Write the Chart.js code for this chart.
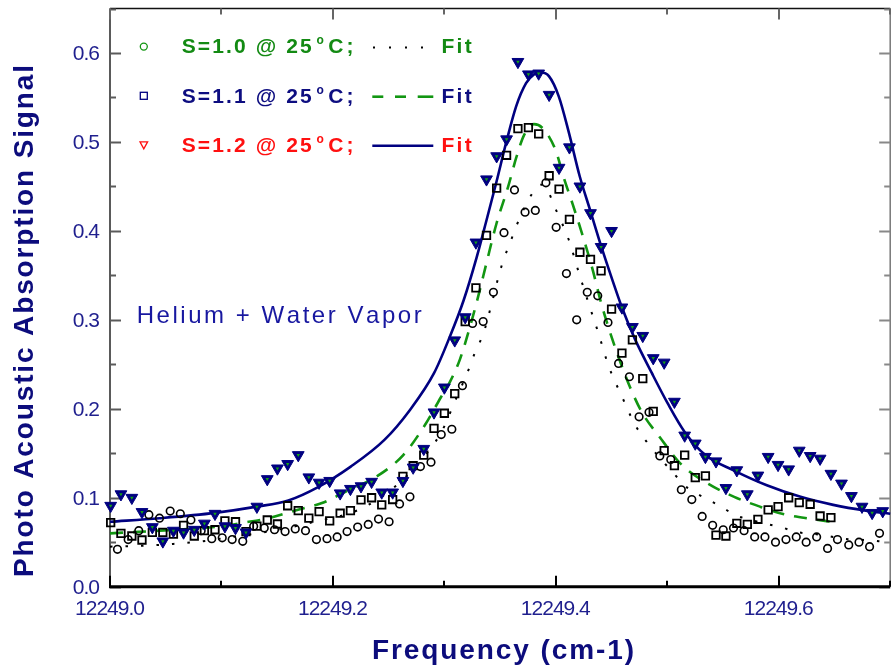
<!DOCTYPE html>
<html>
<head>
<meta charset="utf-8">
<script src="https://cdn.jsdelivr.net/npm/chart.js@4.4.0/dist/chart.umd.min.js"></script>
<style>
html,body{margin:0;padding:0;background:#fff;overflow:hidden;}
#wrap{width:898px;height:669px;}
</style>
</head>
<body>
<div id="wrap"><canvas id="c" width="898" height="669"></canvas></div>
<script>
// ---------- DATA ----------
// Frequency grid shared by the S=1.1 and S=1.2 measurements (cm-1)
const freqGrid = [
12249.0006,12249.0098,12249.0196,12249.0287,12249.0380,12249.0474,12249.0569,12249.0660,12249.0756,12249.0847,
12249.0942,12249.1031,12249.1126,12249.1220,12249.1318,12249.1411,12249.1502,12249.1594,12249.1689,12249.1784,
12249.1876,12249.1971,12249.2065,12249.2157,12249.2252,12249.2347,12249.2438,12249.2536,12249.2628,12249.2720,
12249.2815,12249.2907,12249.3000,12249.3093,12249.3187,12249.3283,12249.3378,12249.3469,12249.3558,12249.3660,
12249.3754,12249.3846,12249.3940,12249.4029,12249.4122,12249.4216,12249.4311,12249.4406,12249.4500,12249.4593,
12249.4687,12249.4780,12249.4874,12249.4972,12249.5064,12249.5156,12249.5251,12249.5342,12249.5437,12249.5526,
12249.5624,12249.5718,12249.5813,12249.5905,12249.5994,12249.6089,12249.6184,12249.6282,12249.6371,12249.6468,
12249.6563,12249.6652,12249.6747,12249.6838,12249.6933];

// S=1.2 @ 25°C (triangles)
const sig12 = [
0.091,0.104,0.100,0.084,0.067,0.051,0.063,0.061,0.064,0.071,
0.082,0.068,0.066,0.061,0.090,0.121,0.133,0.138,0.148,0.123,
0.117,0.119,0.105,0.110,0.113,0.118,0.106,0.106,0.119,0.134,
0.155,0.196,0.224,0.277,0.303,0.387,0.458,0.484,0.503,0.590,
0.576,0.577,0.553,0.471,0.494,0.450,0.420,0.382,0.400,0.314,
0.292,0.282,0.257,0.252,0.208,0.170,0.161,0.146,0.141,0.111,
0.131,0.104,0.125,0.146,0.137,0.132,0.153,0.147,0.144,0.127,
0.116,0.102,0.090,0.083,0.085];

// S=1.1 @ 25°C (squares) - on the first 70 points of freqGrid
const sig11 = [
0.072,0.060,0.057,0.0525,0.061,0.061,0.059,0.069,0.057,0.063,
0.064,0.074,0.073,0.062,0.068,0.075,0.0705,0.091,0.0855,0.077,
0.0845,0.074,0.0826,0.0855,0.0975,0.100,0.092,0.098,0.124,0.136,
0.148,0.178,0.195,0.217,0.298,0.336,0.395,0.448,0.485,0.515,
0.516,0.509,0.462,0.447,0.413,0.376,0.368,0.355,0.312,0.2625,
0.2775,0.234,0.197,0.153,0.136,0.148,0.1226,0.1245,0.058,0.057,
0.0713,0.070,0.0758,0.0863,0.090,0.100,0.0945,0.0927,0.0795,0.0776];

// S=1.0 @ 25°C (circles)
const freqCirc = [
12249.0067,12249.0163,12249.0258,12249.0349,12249.0444,12249.0540,12249.0631,12249.0726,12249.0818,12249.0913,
12249.1007,12249.1096,12249.1191,12249.1289,12249.1384,12249.1476,12249.1571,12249.1662,12249.1754,12249.1852,
12249.1947,12249.2038,12249.2127,12249.2222,12249.2317,12249.2409,12249.2504,12249.2598,12249.2691,12249.2785,
12249.2880,12249.2972,12249.3067,12249.3162,12249.3253,12249.3348,12249.3440,12249.3535,12249.3629,12249.3724,
12249.3816,12249.3911,12249.4003,12249.4095,12249.4187,12249.4282,12249.4376,12249.4468,12249.4563,12249.4660,
12249.4747,12249.4836,12249.4933,12249.5031,12249.5126,12249.5220,12249.5313,12249.5407,12249.5502,12249.5594,
12249.5689,12249.5784,12249.5876,12249.5971,12249.6065,12249.6157,12249.6246,12249.6340,12249.6438,12249.6527,
12249.6628,12249.6720,12249.6815,12249.6904];
const sig10 = [
0.042,0.053,0.063,0.081,0.077,0.085,0.082,0.075,0.063,0.054,
0.055,0.053,0.051,0.068,0.066,0.064,0.062,0.065,0.063,0.053,
0.054,0.056,0.062,0.067,0.070,0.076,0.073,0.093,0.101,0.135,
0.140,0.171,0.177,0.226,0.296,0.298,0.331,0.398,0.446,0.421,
0.423,0.454,0.404,0.352,0.300,0.331,0.327,0.297,0.251,0.236,
0.191,0.196,0.147,0.143,0.109,0.098,0.079,0.069,0.064,0.066,
0.063,0.056,0.056,0.050,0.053,0.056,0.050,0.056,0.043,0.053,
0.047,0.050,0.045,0.060];

// Fit curves
const fit12Freq = [12249.0000,12249.0444,12249.0942,12249.1316,12249.1600,12249.1867,12249.2160,12249.2462,12249.2693,12249.2907,
12249.3049,12249.3173,12249.3289,12249.3378,12249.3467,12249.3556,12249.3644,12249.3733,12249.3804,12249.3867,
12249.3938,12249.4027,12249.4116,12249.4213,12249.4311,12249.4409,12249.4507,12249.4596,12249.4711,12249.4862,
12249.5004,12249.5156,12249.5342,12249.5600,12249.5893,12249.6196,12249.6489,12249.6782,12249.7000];
const fit12 = [0.073,0.077,0.083,0.090,0.097,0.112,0.135,0.165,0.199,0.240,
0.281,0.322,0.370,0.412,0.455,0.500,0.540,0.566,0.576,0.578,
0.574,0.551,0.511,0.462,0.422,0.382,0.345,0.313,0.278,0.240,
0.206,0.174,0.148,0.1305,0.114,0.101,0.092,0.0855,0.082];

const fit11Freq = [12249.0000,12249.0444,12249.1004,12249.1200,12249.1422,12249.1671,12249.1902,12249.2116,12249.2382,12249.2631,
12249.2827,12249.2969,12249.3049,12249.3138,12249.3227,12249.3307,12249.3378,12249.3467,12249.3573,12249.3644,
12249.3716,12249.3804,12249.3893,12249.4000,12249.4071,12249.4151,12249.4240,12249.4329,12249.4400,12249.4471,
12249.4560,12249.4667,12249.4773,12249.4933,12249.5129,12249.5369,12249.5600,12249.5831,12249.6062,12249.6302,12249.6471];
const fit11 = [0.060,0.063,0.068,0.072,0.077,0.086,0.094,0.107,0.123,0.148,
0.182,0.213,0.230,0.255,0.291,0.328,0.364,0.408,0.450,0.482,
0.508,0.520,0.514,0.490,0.460,0.430,0.395,0.357,0.322,0.292,
0.259,0.224,0.196,0.168,0.137,0.1155,0.101,0.090,0.081,0.076,0.073];

const fit10Freq = [12249.0000,12249.0293,12249.0560,12249.0827,12249.1093,12249.1396,12249.1627,12249.1804,12249.2222,12249.2533,
12249.2756,12249.2978,12249.3093,12249.3227,12249.3271,12249.3351,12249.3422,12249.3493,12249.3538,12249.3591,
12249.3644,12249.3778,12249.3867,12249.3911,12249.4000,12249.4116,12249.4204,12249.4293,12249.4382,12249.4471,
12249.4596,12249.4711,12249.4827,12249.5067,12249.5182,12249.5333,12249.5484,12249.5600,12249.5751,12249.5893,
12249.6018,12249.6160,12249.6338,12249.6444,12249.6604,12249.6782,12249.6951];
const fit10 = [0.045,0.046,0.048,0.051,0.056,0.0615,0.067,0.072,0.086,0.110,
0.137,0.175,0.208,0.247,0.262,0.285,0.317,0.352,0.370,0.387,
0.405,0.440,0.452,0.449,0.424,0.390,0.354,0.319,0.285,0.249,
0.213,0.182,0.161,0.126,0.111,0.100,0.090,0.081,0.075,0.0705,
0.067,0.0615,0.059,0.057,0.0535,0.0525,0.0506];

// Tick labels
const xTickLabels = ['12249.0','12249.2','12249.4','12249.6'];
const yTickLabels = ['0.0','0.1','0.2','0.3','0.4','0.5','0.6'];

// Text
const seriesNames = ['S=1.0 @ 25','S=1.1 @ 25','S=1.2 @ 25'];
const fitWord = 'Fit';
const noteText = 'Helium + Water Vapor';
const xTitle = 'Frequency (cm-1)';
const yTitle = 'Photo Acoustic Absorption Signal';

// ---------- STYLE ----------
const NAVY = '#000080', GREEN = '#129612', RED = '#ff1010', BLACK = '#000';
const FONT = '"Liberation Sans", Arial, sans-serif';

const pts = (xs, ys) => ys.map((v, i) => ({x: xs[i], y: v}));

function spaced(ctx, text, x, y, sp, align) {
  const chars = [...text];
  const ws = chars.map(c => ctx.measureText(c).width);
  const total = ws.reduce((a, b) => a + b, 0) + sp * (chars.length - 1);
  let cx = align === 'center' ? x - total / 2 : (align === 'right' ? x - total : x);
  ctx.textAlign = 'left';
  chars.forEach((c, i) => { ctx.fillText(c, cx, y); cx += ws[i] + sp; });
  return total;
}
function fitSpan(ctx, text, x0, x1, y) {
  const chars = [...text];
  const sum = chars.reduce((a, c) => a + ctx.measureText(c).width, 0);
  const sp = (x1 - x0 - sum) / (chars.length - 1);
  spaced(ctx, text, x0, y, sp, 'left');
}

const deco = {
  id: 'deco',
  beforeDatasetsDraw(chart) {
    const {ctx, chartArea: a, scales: {x, y}} = chart;
    ctx.save();
    ctx.lineCap = 'butt';
    // top border
    ctx.strokeStyle = '#111'; ctx.lineWidth = 1.6;
    ctx.beginPath(); ctx.moveTo(a.left, a.top); ctx.lineTo(a.right, a.top); ctx.stroke();
    // right border
    ctx.strokeStyle = '#777'; ctx.lineWidth = 1.5;
    ctx.beginPath(); ctx.moveTo(a.right, a.top); ctx.lineTo(a.right, a.bottom); ctx.stroke();
    // left axis
    ctx.strokeStyle = '#5a5a5a'; ctx.lineWidth = 2;
    ctx.beginPath(); ctx.moveTo(a.left, a.top); ctx.lineTo(a.left, a.bottom); ctx.stroke();
    // y ticks (left & right, inward)
    y.ticks.forEach(t => {
      const py = Math.round(y.getPixelForValue(t.value)) + 0.5;
      const L = t.label ? 11 : 6;
      ctx.strokeStyle = '#5a5a5a'; ctx.lineWidth = 2;
      ctx.beginPath(); ctx.moveTo(a.left, py); ctx.lineTo(a.left + L, py); ctx.stroke();
      ctx.strokeStyle = '#888';
      ctx.beginPath(); ctx.moveTo(a.right, py); ctx.lineTo(a.right - (t.label ? 11 : 6), py); ctx.stroke();
    });
    // x ticks (bottom black, top gray, inward)
    x.ticks.forEach(t => {
      const px = Math.round(x.getPixelForValue(t.value));
      const L = t.label ? 11 : 6;
      ctx.strokeStyle = '#000'; ctx.lineWidth = 2;
      ctx.beginPath(); ctx.moveTo(px, a.bottom); ctx.lineTo(px, a.bottom - L); ctx.stroke();
      ctx.strokeStyle = '#666';
      ctx.beginPath(); ctx.moveTo(px, a.top); ctx.lineTo(px, a.top + L); ctx.stroke();
    });
    // bottom axis
    ctx.strokeStyle = '#000'; ctx.lineWidth = 3;
    ctx.beginPath(); ctx.moveTo(a.left - 1, a.bottom); ctx.lineTo(a.right, a.bottom); ctx.stroke();
    ctx.restore();
  },
  afterDraw(chart) {
    const {ctx, chartArea: a, scales: {x, y}} = chart;
    ctx.save();
    ctx.textBaseline = 'alphabetic';
    // tick labels
    ctx.fillStyle = '#1f1f8e';
    ctx.font = '21px ' + FONT;
    x.ticks.forEach(t => {
      if (!t.label) return;
      spaced(ctx, t.label, x.getPixelForValue(t.value), a.bottom + 28.5, -1, 'center');
    });
    y.ticks.forEach(t => {
      if (!t.label) return;
      spaced(ctx, t.label, a.left - 10, y.getPixelForValue(t.value) + 7.5, -1, 'right');
    });
    // axis titles
    ctx.fillStyle = '#0c0c7c';
    ctx.font = 'bold 28px ' + FONT;
    fitSpan(ctx, xTitle, 372, 634, 659.3);
    ctx.save();
    ctx.translate(33.3, 321);
    ctx.rotate(-Math.PI / 2);
    fitSpan(ctx, yTitle, -256, 256, 0);
    ctx.restore();
    // annotation
    ctx.fillStyle = '#1818a0';
    ctx.font = '24px ' + FONT;
    fitSpan(ctx, noteText, 136.7, 421.7, 322.7);

    // legend
    const rows = [
      {base: 53.3, col: '#138a13', fitCol: '#138a13', marker: 'circle', line: 'dotted'},
      {base: 102.5, col: '#0d0d80', fitCol: '#0d0d80', marker: 'square', line: 'dashed'},
      {base: 151.5, col: RED, fitCol: RED, marker: 'triangle', line: 'solid'}
    ];
    rows.forEach((r, i) => {
      const my = r.base - 6.7, ly = r.base - 5.8;
      // marker
      ctx.lineWidth = 1.3;
      if (r.marker === 'circle') {
        ctx.strokeStyle = GREEN;
        ctx.beginPath(); ctx.arc(143.8, my, 3.5, 0, Math.PI * 2); ctx.stroke();
      } else if (r.marker === 'square') {
        ctx.strokeStyle = NAVY;
        ctx.strokeRect(140.3, my - 3.5, 7, 7);
      } else {
        ctx.strokeStyle = RED;
        ctx.beginPath(); ctx.moveTo(140, my - 3); ctx.lineTo(147.6, my - 3); ctx.lineTo(143.8, my + 4); ctx.closePath(); ctx.stroke();
      }
      // text
      ctx.fillStyle = r.col;
      ctx.font = 'bold 21px ' + FONT;
      fitSpan(ctx, seriesNames[i], 181.7, 311.7, r.base);
      ctx.font = 'bold 12px ' + FONT;
      ctx.fillText('o', 316.5, r.base - 9);
      ctx.font = 'bold 21px ' + FONT;
      spaced(ctx, 'C;', 328.3, r.base, 3, 'left');
      // line sample
      if (r.line === 'dotted') {
        ctx.strokeStyle = BLACK; ctx.lineWidth = 2; ctx.setLineDash([2, 14]);
        ctx.beginPath(); ctx.moveTo(373, ly); ctx.lineTo(425, ly); ctx.stroke();
        ctx.setLineDash([]);
      } else if (r.line === 'dashed') {
        ctx.strokeStyle = GREEN; ctx.lineWidth = 2.6;
        [[372.3, 383.3], [395, 406], [417.7, 433.3]].forEach(s => {
          ctx.beginPath(); ctx.moveTo(s[0], ly); ctx.lineTo(s[1], ly); ctx.stroke();
        });
      } else {
        ctx.strokeStyle = NAVY; ctx.lineWidth = 2.6;
        ctx.beginPath(); ctx.moveTo(372.3, ly); ctx.lineTo(433.3, ly); ctx.stroke();
      }
      ctx.fillStyle = r.fitCol;
      fitSpan(ctx, fitWord, 441.5, 471.7, r.base);
    });
    ctx.restore();
  }
};

const datasets = [
  {label: 'S=1.2 centre', data: pts(freqGrid, sig12), showLine: false, pointStyle: 'triangle', pointRotation: 180,
   pointRadius: 2, pointBackgroundColor: '#13a313', pointBorderWidth: 0, order: 0, clip: false},
  {label: 'S=1.2 @ 25°C', data: pts(freqGrid, sig12), showLine: false, pointStyle: 'triangle', pointRotation: 180,
   pointRadius: 6.8, pointBackgroundColor: NAVY, pointBorderColor: NAVY, pointBorderWidth: 1, order: 1, clip: false},
  {label: 'S=1.1 @ 25°C', data: pts(freqGrid, sig11), showLine: false, pointStyle: 'rect',
   pointRadius: 5.3, pointBackgroundColor: 'rgba(0,0,0,0)', pointBorderColor: BLACK, pointBorderWidth: 1.8, order: 2, clip: false},
  {label: 'S=1.0 @ 25°C', data: pts(freqCirc, sig10), showLine: false, pointStyle: 'circle',
   pointRadius: 3.8, pointBackgroundColor: 'rgba(0,0,0,0)', pointBorderColor: BLACK, pointBorderWidth: 1.6, order: 3, clip: false},
  {label: 'Fit S=1.2', data: pts(fit12Freq, fit12), showLine: true, fill: false, borderColor: NAVY, borderWidth: 2.6,
   pointRadius: 0, cubicInterpolationMode: 'monotone', order: 4, clip: false},
  {label: 'Fit S=1.1', data: pts(fit11Freq, fit11), showLine: true, fill: false, borderColor: GREEN, borderWidth: 2.6,
   borderDash: [13, 10], pointRadius: 0, cubicInterpolationMode: 'monotone', order: 5, clip: false},
  {label: 'Fit S=1.0', data: pts(fit10Freq, fit10), showLine: true, fill: false, borderColor: BLACK, borderWidth: 2,
   borderDash: [2.5, 13], pointRadius: 0, cubicInterpolationMode: 'monotone', order: 6, clip: false}
];

new Chart(document.getElementById('c'), {
  type: 'scatter',
  data: {datasets},
  options: {
    responsive: false,
    animation: false,
    devicePixelRatio: 1,
    events: [],
    layout: {padding: {left: 0, right: 0.5, top: 8.5, bottom: 0}},
    plugins: {legend: {display: false}, tooltip: {enabled: false}, title: {display: false}},
    scales: {
      x: {
        type: 'linear', min: 12249.0, max: 12249.7,
        afterFit(s) { s.height = 82.3; s.paddingLeft = 0; s.paddingRight = 0; },
        ticks: {display: false, stepSize: 0.1,
          callback(v) { const s = Number(v).toFixed(1); return xTickLabels.includes(s) ? s : ''; }},
        grid: {display: false, drawTicks: false}, border: {display: false}
      },
      y: {
        type: 'linear', min: 0, max: 0.65,
        afterFit(s) { s.width = 110; s.paddingTop = 0; s.paddingBottom = 0; },
        ticks: {display: false, stepSize: 0.05,
          callback(v) { const k = Math.round(v * 100); const s = (k / 100).toFixed(1); return (k % 10 === 0 && yTickLabels.includes(s)) ? s : ''; }},
        grid: {display: false, drawTicks: false}, border: {display: false}
      }
    }
  },
  plugins: [deco]
});
</script>
</body>
</html>
